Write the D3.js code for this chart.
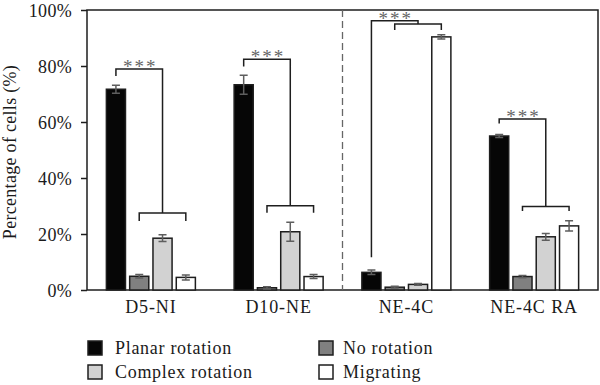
<!DOCTYPE html>
<html>
<head>
<meta charset="utf-8">
<script src="https://cdn.jsdelivr.net/npm/d3@7"></script>
<style>
  body { margin: 0; background: #fff; }
  svg { display: block; }
  svg text { font-family: "Liberation Serif", "Times New Roman", serif; }
</style>
</head>
<body>
<div id="chart-wrapper"></div>
<script>
////////////////////////////////////////////////
/////////////////// Data //////////////////////
////////////////////////////////////////////////

const groups = ["D5-NI", "D10-NE", "NE-4C", "NE-4C RA"];
const seriesNames = ["Planar rotation", "No rotation", "Complex rotation", "Migrating"];

// mean percentage per group, one array per series
const planarValues = [71.7, 73.3, 6.3, 55.0];
const noRotationValues = [4.9, 0.8, 1.0, 4.8];
const complexValues = [18.5, 20.8, 2.0, 19.0];
const migratingValues = [4.5, 4.8, 90.4, 22.9];

// error bar half-lengths
const planarErrors = [1.4, 3.4, 0.8, 0.5];
const noRotationErrors = [0.6, 0.4, 0.3, 0.4];
const complexErrors = [1.2, 3.4, 0.3, 1.2];
const migratingErrors = [0.9, 0.7, 0.8, 1.8];

const yTicks = [0, 20, 40, 60, 80, 100];

// significance brackets (values in %)
// upper: from black bar to the middle of the lower bracket
const upperBracketY = [78.9, 82.4, 96.2, 61.1];
const upperBracketLeftEnd = [76.4, 79.8, 11.7, 59.5];
const lowerBracketY = [27.5, 30.1, 95.0, 29.8];
const lowerBracketLegEnd = [24.6, 27.6, 92.9, 28.2];
const starLabels = ["***", "***", "***", "***"];

////////////////////////////////////////////////
///////////////// Constants ///////////////////
////////////////////////////////////////////////

const width = 600;
const height = 385;
const margin = {top: 10, right: 2, bottom: 95, left: 87};

const barColors = ["#060606", "#808080", "#d2d2d2", "#ffffff"];
const inkColour = "#1e1e1e";
const errColour = "#5e5e5e";
const textColour = "#1a1a1a";

const values = [planarValues, noRotationValues, complexValues, migratingValues];
const errors = [planarErrors, noRotationErrors, complexErrors, migratingErrors];

const barData = [];
groups.forEach((g, gi) => {
  seriesNames.forEach((s, si) => {
    barData.push({group: g, series: s, value: values[si][gi], err: errors[si][gi]});
  });
});

/// SVG ///
const svg = d3.select("#chart-wrapper")
  .append("svg")
    .attr("width", width)
    .attr("height", height);

/// Scales ///
const xScale = d3.scaleBand()
  .domain(groups)
  .range([margin.left, width - margin.right]);

const innerWidth = 89;
const xInner = d3.scaleBand()
  .domain(seriesNames)
  .range([(xScale.bandwidth() - innerWidth) / 2, (xScale.bandwidth() + innerWidth) / 2])
  .paddingInner(0.18);

const yScale = d3.scaleLinear()
  .domain([0, 100])
  .range([height - margin.bottom, margin.top]);

const barCenter = (gi, si) => xScale(groups[gi]) + xInner(seriesNames[si]) + xInner.bandwidth() / 2;

/// Frame ///
svg.append("rect")
  .attr("x", margin.left)
  .attr("y", margin.top)
  .attr("width", width - margin.right - margin.left)
  .attr("height", yScale(0) - margin.top)
  .attr("fill", "none")
  .attr("stroke", inkColour)
  .attr("stroke-width", 1.5);

/// Dashed separator between the groups ///
svg.append("line")
  .attr("x1", xScale("NE-4C"))
  .attr("x2", xScale("NE-4C"))
  .attr("y1", margin.top)
  .attr("y2", yScale(0))
  .attr("stroke", "#666")
  .attr("stroke-width", 1.3)
  .attr("stroke-dasharray", "7,4");

/// Y axis ///
svg.append("g")
  .attr("transform", `translate(${margin.left}, 0)`)
  .call(d3.axisLeft(yScale).tickValues(yTicks).tickSize(6).tickPadding(9).tickFormat(d => `${d}%`))
  .call(g => g.attr("font-family", null).attr("font-size", null))
  .call(g => g.select(".domain").remove())
  .call(g => g.selectAll(".tick line").attr("stroke", inkColour).attr("stroke-width", 1.5))
  .call(g => g.selectAll(".tick text")
    .attr("fill", textColour)
    .attr("dy", "0.34em")
    .style("font-size", "18px")
    .attr("letter-spacing", "0.3px"));

svg.append("text")
  .attr("transform", `translate(16, ${(yScale(0) + margin.top) / 2 + 2})rotate(-90)`)
  .attr("text-anchor", "middle")
  .style("font-size", "18px")
  .attr("letter-spacing", "0.3px")
  .attr("fill", textColour)
  .text("Percentage of cells (%)");

/// X labels ///
svg.append("g")
  .selectAll("text")
  .data(groups)
  .join("text")
    .attr("x", d => xScale(d) + xScale.bandwidth() / 2)
    .attr("y", 313)
    .attr("text-anchor", "middle")
    .style("font-size", "18px")
    .attr("letter-spacing", "0.9px")
    .attr("fill", textColour)
    .text(d => d);

/// Bars ///
svg.append("g")
  .selectAll("rect")
  .data(barData)
  .join("rect")
    .attr("x", d => xScale(d.group) + xInner(d.series))
    .attr("y", d => yScale(d.value))
    .attr("width", xInner.bandwidth())
    .attr("height", d => yScale(0) - yScale(d.value))
    .attr("fill", d => barColors[seriesNames.indexOf(d.series)])
    .attr("stroke", inkColour)
    .attr("stroke-width", 1.5);

/// Error bars ///
const errG = svg.append("g")
  .attr("stroke", errColour)
  .attr("stroke-width", 1.5);

errG.selectAll("path")
  .data(barData)
  .join("path")
    .attr("fill", "none")
    .attr("d", d => {
      const cx = xScale(d.group) + xInner(d.series) + xInner.bandwidth() / 2;
      const y0 = yScale(d.value - d.err);
      const y1 = yScale(d.value + d.err);
      const w = 4;
      return `M${cx - w},${y0}H${cx + w}M${cx},${y0}V${y1}M${cx - w},${y1}H${cx + w}`;
    });

/// Significance brackets ///
const bracketG = svg.append("g")
  .attr("fill", "none")
  .attr("stroke", inkColour)
  .attr("stroke-width", 1.5);

groups.forEach((g, gi) => {
  const xl0 = barCenter(gi, 1);
  const xl1 = barCenter(gi, 3);
  const xMid = (xl0 + xl1) / 2;
  const xLeft = barCenter(gi, 0);

  // lower bracket
  bracketG.append("path")
    .attr("d", `M${xl0},${yScale(lowerBracketLegEnd[gi])}V${yScale(lowerBracketY[gi])}H${xl1}V${yScale(lowerBracketLegEnd[gi])}`);

  // upper bracket
  bracketG.append("path")
    .attr("d", `M${xLeft},${yScale(upperBracketLeftEnd[gi])}V${yScale(upperBracketY[gi])}H${xMid}V${yScale(lowerBracketY[gi])}`);

  svg.append("text")
    .attr("x", (xLeft + xMid) / 2 + 1)
    .attr("y", yScale(upperBracketY[gi]) + 4)
    .attr("text-anchor", "middle")
    .style("font-size", "19px")
    .attr("letter-spacing", "2px")
    .attr("fill", "#666")
    .text(starLabels[gi]);
});

/// Legend ///
const legendCols = [88, 319];
const legendRows = [341, 365];
const legend = svg.append("g")
  .selectAll("g")
  .data(seriesNames)
  .join("g")
    .attr("transform", (d, i) => `translate(${legendCols[i % 2]}, ${legendRows[Math.floor(i / 2)]})`);

legend.append("rect")
  .attr("width", 14)
  .attr("height", 14)
  .attr("fill", (d, i) => barColors[i])
  .attr("stroke", inkColour)
  .attr("stroke-width", 1.5);

legend.append("text")
  .attr("x", (d, i) => i % 2 === 0 ? 27 : 24)
  .attr("y", 13)
  .style("font-size", "18px")
  .attr("letter-spacing", "0.7px")
  .attr("fill", textColour)
  .text(d => d);
</script>
</body>
</html>
